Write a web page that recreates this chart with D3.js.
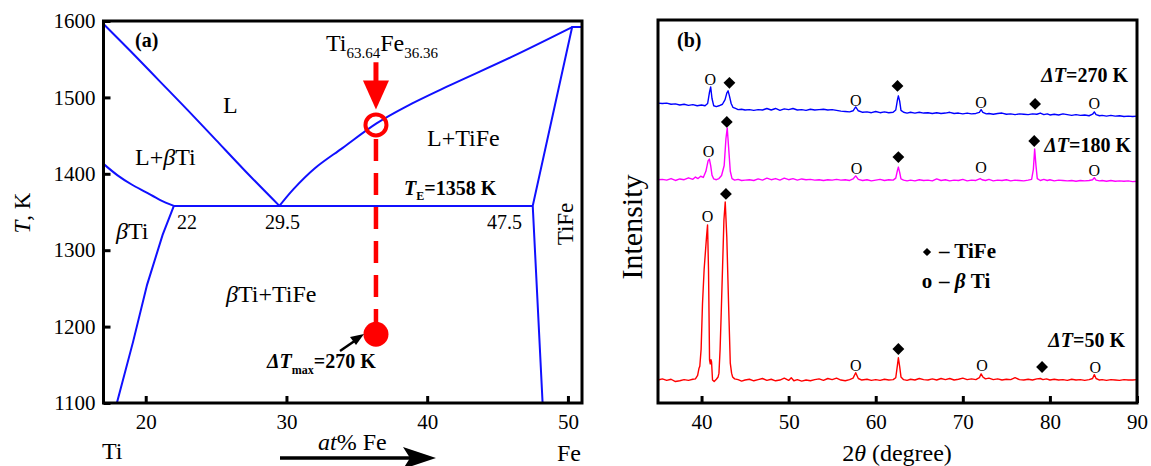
<!DOCTYPE html>
<html>
<head>
<meta charset="utf-8">
<script src="https://cdn.jsdelivr.net/npm/d3@7"></script>
<style>
body { margin: 0; background: #fff; }
svg { display: block; }
</style>
</head>
<body>
<div id="chart"></div>
<script>
const width = 1151;
const height = 466;
const serif = '"Liberation Serif", "Times New Roman", serif';

// ---- panel (a): Ti-Fe phase diagram, [at% Fe, T (K)] ----
const xTicksA = [20, 30, 40, 50];
const yTicksA = [1100, 1200, 1300, 1400, 1500, 1600];
const liquidusTi = [[17, 1596], [19, 1559], [21, 1521], [23, 1483], [25, 1444], [27, 1405], [29.5, 1358]];
const solidusTi = [[17, 1413], [18, 1398], [19, 1386], [20, 1376], [21, 1366], [22, 1358]];
const solvusTi = [[22, 1358], [21.2, 1320], [20.1, 1255], [19.1, 1180], [17.95, 1100]];
const eutectic = [[22, 1358], [47.5, 1358]];
const liquidusTiFe = [[29.5, 1358], [30.5, 1380], [32, 1407], [34, 1434],
  [36.4, 1466], [38.5, 1488], [41.4, 1514], [46, 1553], [50.3, 1592]];
const tiFeLeft = [[48.2, 1100], [47.5, 1358], [50.3, 1592], [51, 1592]];
const alloy = { fe: 36.36, tLiq: 1464, tMin: 1190 };

// ---- panel (b): XRD patterns, [2theta, intensity a.u.] ----
const xTicksB = [40, 50, 60, 70, 80, 90];
const offsets = { k50: 0, k180: 52, k270: 72 };
const xrd50 = [[35.0,6.0],[35.5,6.3],[36.0,5.9],[36.5,6.2],[37.0,5.6],[37.5,5.8],[38.0,6.1],[38.5,5.9],[39.0,6.2],
  [39.3,6.3],[39.55,7.2],[39.7,9.0],[39.8,9.6],[39.95,14],[40.11,26],[40.3,35],[40.57,43.3],[40.69,46.5],[40.8,34.7],
  [40.92,11.2],[41.0,10.2],[41.08,11.3],[41.15,10.7],[41.26,6.0],[41.45,5.6],[41.7,6.2],[41.9,6.8],[42.0,7.8],
  [42.13,14],[42.26,23.5],[42.42,36],[42.57,47.8],[42.72,52.5],[42.9,43.3],[43.1,26.1],[43.3,10.4],[43.45,7.8],
  [43.57,6.8],[43.8,6.3],[44.2,6.1],[44.6,5.7],[45.0,6.0],[45.5,6.2],[46.0,5.8],[46.5,6.1],[47.0,6.4],[47.5,5.9],
  [48.0,6.2],[48.5,5.8],[49.0,6.0],[49.5,6.5],[50.0,5.9],[50.3,6.6],[50.6,5.8],[51.0,6.1],[51.5,5.7],[52.0,6.0],
  [52.5,5.8],[53.0,6.1],[53.5,6.3],[54.0,5.9],[54.5,6.4],[55.0,6.1],[55.5,6.5],[56.0,6.0],[56.5,5.8],[57.0,6.1],
  [57.4,6.5],[57.7,7.9],[58.0,6.4],[58.4,6.0],[59.0,6.2],[59.5,5.9],[60.0,6.1],[60.5,5.9],[61.0,6.2],[61.5,6.0],
  [62.0,6.1],[62.3,6.6],[62.5,10],[62.6,11.8],[62.75,9.5],[62.9,6.8],[63.2,6.1],[63.6,5.9],[64.0,6.2],[64.5,6.0],
  [65.0,6.4],[65.5,6.1],[66.0,6.0],[66.5,6.3],[67.0,6.0],[67.5,6.4],[68.0,6.1],[68.5,6.4],[69.0,6.0],[69.5,6.2],
  [70.0,6.5],[70.5,6.1],[71.0,6.3],[71.5,6.1],[71.9,6.6],[72.1,7.6],[72.3,6.8],[72.6,6.3],[73.0,6.5],[73.5,6.1],
  [74.0,6.3],[74.5,6.0],[75.0,6.2],[75.5,6.1],[76.0,6.6],[76.5,6.1],[77.0,6.0],[77.5,6.2],[78.0,6.0],[78.5,6.3],
  [78.9,6.4],[79.2,6.1],[79.6,6.3],[80.0,6.0],[80.5,6.2],[81.0,6.0],[81.5,6.1],[82.0,5.9],[82.5,6.2],[83.0,6.0],
  [83.5,6.1],[84.0,5.9],[84.5,6.1],[84.9,6.4],[85.1,7.4],[85.3,6.4],[85.7,6.0],[86.0,6.1],[86.5,5.9],[87.0,6.1],
  [87.5,6.0],[88.0,5.9],[88.5,6.1],[89.0,6.0],[89.5,6.0],[90.0,6.1]];
const xrd180 = [[35.0,6.3],[35.5,6.4],[36.0,6.2],[36.5,6.6],[37.0,6.1],[37.5,6.5],[38.0,6.3],[38.5,6.8],[39.0,6.4],
  [39.3,7.0],[39.6,6.6],[39.9,7.2],[40.2,6.9],[40.5,8.5],[40.75,11.2],[40.9,11.7],[41.05,10],[41.2,7.5],[41.4,6.5],
  [41.7,6.3],[42.0,6.6],[42.3,7.4],[42.6,10],[42.8,17],[42.95,19.8],[43.1,15],[43.3,8.5],[43.5,6.6],[43.8,6.2],
  [44.2,6.4],[44.6,6.1],[45.0,6.2],[45.5,6.3],[46.0,6.1],[46.5,6.5],[47.0,6.2],[47.5,6.7],[48.0,6.3],[48.5,6.6],
  [49.0,6.2],[49.5,6.7],[50.0,6.3],[50.5,6.6],[51.0,6.2],[51.5,6.5],[52.0,6.3],[52.5,6.4],[53.0,6.2],[53.5,6.3],
  [54.0,6.1],[54.5,6.3],[55.0,6.2],[55.5,6.4],[56.0,6.2],[56.5,6.3],[57.0,6.1],[57.4,6.5],[57.7,7.3],[58.0,6.4],
  [58.5,6.1],[59.0,6.3],[59.5,6.0],[60.0,6.2],[60.5,6.4],[61.0,6.1],[61.5,6.3],[62.0,6.2],[62.3,6.7],[62.5,8.8],
  [62.6,9.6],[62.75,8.2],[62.9,6.5],[63.2,6.2],[63.6,6.0],[64.0,6.2],[64.5,6.0],[65.0,6.3],[65.5,6.1],[66.0,6.2],
  [66.5,6.0],[67.0,6.5],[67.5,6.1],[68.0,6.3],[68.5,6.0],[69.0,6.2],[69.5,6.1],[70.0,6.4],[70.5,6.0],[71.0,6.2],
  [71.5,6.1],[72.0,6.6],[72.2,6.3],[72.6,6.1],[73.0,6.4],[73.5,6.0],[74.0,6.2],[74.5,6.1],[75.0,6.3],[75.5,6.0],
  [76.0,6.2],[76.5,6.1],[77.0,6.0],[77.5,6.2],[77.9,6.4],[78.1,9],[78.25,14.3],[78.4,10],[78.55,6.6],[78.9,6.1],
  [79.3,6.4],[79.7,6.1],[80.0,6.3],[80.5,6.0],[81.0,6.2],[81.5,6.1],[82.0,6.0],[82.5,6.1],[83.0,5.9],[83.5,6.1],
  [84.0,6.0],[84.5,6.1],[84.9,6.3],[85.1,6.8],[85.3,6.2],[85.7,6.0],[86.0,6.1],[86.5,5.9],[87.0,6.1],[87.5,5.9],
  [88.0,6.0],[88.5,5.9],[89.0,6.0],[89.5,5.8],[90.0,5.9]];
const xrd270 = [[35.0,6.3],[35.5,6.2],[36.0,6.3],[36.5,6.0],[37.0,6.1],[37.5,5.8],[38.0,6.0],[38.5,5.7],[39.0,5.9],
  [39.5,5.6],[40.0,5.8],[40.4,5.6],[40.7,6.2],[40.9,9],[41.05,10.5],[41.2,7.5],[41.4,5.6],[41.7,5.4],[42.0,5.6],
  [42.4,6.0],[42.7,7.2],[42.9,8.9],[43.05,9.5],[43.2,8.2],[43.4,6.2],[43.6,5.2],[43.9,4.9],[44.2,4.6],[44.6,4.7],
  [45.0,4.5],[45.5,4.6],[46.0,4.4],[46.5,4.6],[47.0,4.5],[47.5,4.9],[48.0,4.5],[48.5,4.9],[49.0,4.4],[49.5,4.8],
  [50.0,4.6],[50.5,4.9],[51.0,4.5],[51.5,4.6],[52.0,4.4],[52.5,4.7],[53.0,4.5],[53.5,4.6],[54.0,4.7],[54.5,4.5],
  [55.0,4.6],[55.5,4.4],[56.0,4.2],[56.5,4.1],[57.0,4.0],[57.4,4.3],[57.7,5.3],[58.0,4.3],[58.5,3.9],[59.0,4.0],
  [59.5,3.8],[60.0,4.1],[60.5,3.8],[61.0,4.0],[61.5,3.8],[62.0,3.9],[62.3,4.5],[62.5,7.2],[62.6,8.2],[62.75,6.8],
  [62.9,4.4],[63.2,3.9],[63.6,3.7],[64.0,3.9],[64.5,3.7],[65.0,3.9],[65.5,3.7],[66.0,3.8],[66.5,3.6],[67.0,3.8],
  [67.5,3.6],[68.0,3.7],[68.5,3.9],[69.0,3.6],[69.5,3.7],[70.0,3.5],[70.5,3.7],[71.0,3.5],[71.5,3.6],[71.9,3.9],
  [72.1,4.6],[72.3,3.9],[72.7,3.5],[73.0,3.6],[73.5,3.4],[74.0,3.6],[74.5,3.7],[75.0,3.4],[75.5,3.5],[76.0,3.3],
  [76.5,3.5],[77.0,3.4],[77.5,3.3],[78.0,3.5],[78.5,3.4],[78.9,3.7],[79.3,3.3],[79.7,3.5],[80.0,3.2],[80.5,3.4],
  [81.0,3.2],[81.5,3.5],[82.0,3.3],[82.5,3.1],[83.0,3.3],[83.5,3.1],[84.0,3.2],[84.5,3.0],[84.9,3.4],[85.1,4.0],
  [85.3,3.3],[85.7,3.0],[86.0,3.1],[86.5,2.9],[87.0,3.1],[87.5,2.9],[88.0,3.0],[88.5,2.8],[89.0,2.9],[89.5,2.8],
  [90.0,2.9]];

// peak labels: [2theta, height above own baseline, phase] ('o' = beta-Ti, 'd' = TiFe)
const marks50 = [[40.7,48.8,'o'],[42.8,54.6,'d'],[57.7,9.9,'o'],[62.6,14.1,'d'],[72.2,9.9,'o'],[79.1,9.4,'d'],[85.2,9.4,'o']];
const marks180 = [[40.8,13.8,'o'],[42.9,21.4,'d'],[57.8,9.4,'o'],[62.6,12.2,'d'],[72.1,9.6,'o'],[78.2,16.4,'d'],[85.1,8.8,'o']];
const marks270 = [[41.0,12.6,'o'],[43.2,11.6,'d'],[57.7,7.1,'o'],[62.5,10.8,'d'],[72.1,6.5,'o'],[78.3,6.1,'d'],[85.1,6.3,'o']];

const svg = d3.select('#chart')
  .append('svg')
  .attr('width', width)
  .attr('height', height)
  .attr('font-family', serif);

const xA = d3.scaleLinear().domain([17, 51]).range([103.5, 582]);
const yA = d3.scaleLinear().domain([1100, 1600]).range([403, 21]);
const xB = d3.scaleLinear().domain([35, 90]).range([658, 1137]);
const yB = d3.scaleLinear().domain([0, 100]).range([403, 20]);

function styleAxis(g) {
  g.attr('font-family', serif).attr('font-size', 21);
  g.select('.domain').remove();
  g.selectAll('.tick line').attr('stroke', '#000').attr('stroke-width', 3);
  g.selectAll('.tick text').attr('fill', '#000');
}

// ---------- panel (a) ----------
const lineA = d3.line().x(d => xA(d[0])).y(d => yA(d[1]));
const curveA = d3.line().x(d => xA(d[0])).y(d => yA(d[1])).curve(d3.curveCatmullRom.alpha(0.5));
[[liquidusTi, curveA], [solidusTi, curveA], [solvusTi, lineA], [eutectic, lineA], [liquidusTiFe, curveA], [tiFeLeft, lineA]]
  .forEach(([seg, gen]) => {
    svg.append('path')
      .datum(seg)
      .attr('d', gen)
      .attr('fill', 'none')
      .attr('stroke', '#1010ff')
      .attr('stroke-width', 2);
  });

svg.append('g')
  .attr('transform', `translate(0,${yA.range()[0]})`)
  .call(d3.axisBottom(xA).tickValues(xTicksA).tickFormat(d3.format('d'))
    .tickSizeInner(-7).tickSizeOuter(0).tickPadding(11))
  .call(styleAxis);
svg.append('g')
  .attr('transform', `translate(${xA.range()[0]},0)`)
  .call(d3.axisLeft(yA).tickValues(yTicksA).tickFormat(d3.format('d'))
    .tickSizeInner(-7).tickSizeOuter(0).tickPadding(8))
  .call(styleAxis);

svg.append('rect')
  .attr('x', xA.range()[0]).attr('y', yA.range()[1])
  .attr('width', xA.range()[1] - xA.range()[0])
  .attr('height', yA.range()[0] - yA.range()[1])
  .attr('fill', 'none').attr('stroke', '#000').attr('stroke-width', 3);

// alloy composition: arrow, liquidus point, undercooling path
const red = '#ff0000';
svg.append('line')
  .attr('x1', xA(alloy.fe)).attr('x2', xA(alloy.fe))
  .attr('y1', yA(1546)).attr('y2', yA(1500))
  .attr('stroke', red).attr('stroke-width', 5);
svg.append('path')
  .attr('d', `M${xA(alloy.fe) - 13},${yA(1522)} L${xA(alloy.fe) + 13},${yA(1522)} L${xA(alloy.fe)},${yA(1484)} Z`)
  .attr('fill', red);
svg.append('circle')
  .attr('cx', xA(alloy.fe)).attr('cy', yA(alloy.tLiq)).attr('r', 10.5)
  .attr('fill', 'none').attr('stroke', red).attr('stroke-width', 4);
svg.append('line')
  .attr('x1', xA(alloy.fe)).attr('x2', xA(alloy.fe))
  .attr('y1', yA(alloy.tLiq) + 14).attr('y2', yA(alloy.tMin) - 12)
  .attr('stroke', red).attr('stroke-width', 4.5)
  .attr('stroke-dasharray', '22,12');
svg.append('circle')
  .attr('cx', xA(alloy.fe)).attr('cy', yA(alloy.tMin)).attr('r', 12.5)
  .attr('fill', red);

// small black arrow pointing to the undercooled point
svg.append('line')
  .attr('x1', 340).attr('y1', 351).attr('x2', 356).attr('y2', 340)
  .attr('stroke', '#000').attr('stroke-width', 2.5);
svg.append('path')
  .attr('d', 'M364,334 L350,337 L356,345 Z')
  .attr('fill', '#000');

const textA = (x, y, size, weight) => svg.append('text')
  .attr('x', x).attr('y', y)
  .attr('font-size', size)
  .attr('font-weight', weight || 'normal');

textA(135, 47, 20, 'bold').text('(a)');
textA(223, 113, 24).text('L');
const lb = textA(135, 165, 24);
lb.append('tspan').text('L+');
lb.append('tspan').attr('font-style', 'italic').text('β');
lb.append('tspan').text('Ti');
const bt = textA(116, 239, 24);
bt.append('tspan').attr('font-style', 'italic').text('β');
bt.append('tspan').text('Ti');
textA(177, 229, 20).text('22');
textA(265, 229, 20).text('29.5');
textA(487, 229, 20).text('47.5');
textA(427, 146, 24).text('L+TiFe');
const bf = textA(226, 302, 24);
bf.append('tspan').attr('font-style', 'italic').text('β');
bf.append('tspan').text('Ti+TiFe');
svg.append('text')
  .attr('transform', 'translate(573,224) rotate(-90)')
  .attr('text-anchor', 'middle')
  .attr('font-size', 23)
  .text('TiFe');

const te = textA(404, 195, 20, 'bold');
te.append('tspan').attr('font-style', 'italic').text('T');
te.append('tspan').attr('font-size', 12).attr('dy', 5).text('E');
te.append('tspan').attr('dy', -5).text('=1358 K');

const comp = textA(326, 51, 24);
comp.append('tspan').text('Ti');
comp.append('tspan').attr('font-size', 15).attr('dy', 7).text('63.64');
comp.append('tspan').attr('dy', -7).text('Fe');
comp.append('tspan').attr('font-size', 15).attr('dy', 7).text('36.36');

const dt = textA(267, 368, 20, 'bold');
dt.append('tspan').attr('font-style', 'italic').text('ΔT');
dt.append('tspan').attr('font-size', 12).attr('dy', 6).text('max');
dt.append('tspan').attr('dy', -6).text('=270 K');

svg.append('text')
  .attr('transform', 'translate(30,213) rotate(-90)')
  .attr('text-anchor', 'middle')
  .attr('font-size', 23)
  .call(t => {
    t.append('tspan').attr('font-style', 'italic').text('T');
    t.append('tspan').text(', K');
  });

textA(102, 459, 24).text('Ti');
textA(557, 461, 24).text('Fe');
const at = textA(318, 450, 24);
at.append('tspan').attr('font-style', 'italic').text('at');
at.append('tspan').text('% Fe');
svg.append('line')
  .attr('x1', 280).attr('y1', 458).attr('x2', 418).attr('y2', 458)
  .attr('stroke', '#000').attr('stroke-width', 3.5);
svg.append('path')
  .attr('d', 'M436,458 L403,447 L410,458 L403,469 Z')
  .attr('fill', '#000');

// ---------- panel (b) ----------
const patterns = [
  { data: xrd50, marks: marks50, off: offsets.k50, color: '#ff0000', label: '=50 K', lx: 1125, ly: 347 },
  { data: xrd180, marks: marks180, off: offsets.k180, color: '#ff00ff', label: '=180 K', lx: 1131, ly: 152 },
  { data: xrd270, marks: marks270, off: offsets.k270, color: '#0000ff', label: '=270 K', lx: 1128, ly: 82 }
];

const diamond = d3.symbol().type(d3.symbolSquare).size(70);

patterns.forEach(p => {
  const line = d3.line().x(d => xB(d[0])).y(d => yB(d[1] + p.off));
  svg.append('path')
    .datum(p.data)
    .attr('d', line)
    .attr('fill', 'none')
    .attr('stroke', p.color)
    .attr('stroke-width', 1.4)
    .attr('stroke-linejoin', 'round');

  p.marks.forEach(m => {
    const x = xB(m[0]);
    const y = yB(m[1] + p.off);
    if (m[2] === 'd') {
      svg.append('path')
        .attr('d', diamond)
        .attr('transform', `translate(${x},${y}) rotate(45)`)
        .attr('fill', '#000');
    } else {
      svg.append('text')
        .attr('x', x).attr('y', y)
        .attr('dy', '0.36em')
        .attr('text-anchor', 'middle')
        .attr('font-size', 16)
        .text('O');
    }
  });

  const lab = svg.append('text')
    .attr('x', p.lx).attr('y', p.ly)
    .attr('text-anchor', 'end')
    .attr('font-size', 20)
    .attr('font-weight', 'bold');
  lab.append('tspan').attr('font-style', 'italic').text('ΔT');
  lab.append('tspan').text(p.label);
});

svg.append('g')
  .attr('transform', `translate(0,${yB.range()[0]})`)
  .call(d3.axisBottom(xB).tickValues(xTicksB).tickFormat(d3.format('d'))
    .tickSizeInner(-7).tickSizeOuter(0).tickPadding(11))
  .call(styleAxis);

svg.append('rect')
  .attr('x', xB.range()[0]).attr('y', yB.range()[1])
  .attr('width', xB.range()[1] - xB.range()[0])
  .attr('height', yB.range()[0] - yB.range()[1])
  .attr('fill', 'none').attr('stroke', '#000').attr('stroke-width', 3);

svg.append('text').attr('x', 677).attr('y', 47)
  .attr('font-size', 20).attr('font-weight', 'bold').text('(b)');

// legend
svg.append('path')
  .attr('d', d3.symbol().type(d3.symbolSquare).size(34))
  .attr('transform', 'translate(927,252) rotate(45)')
  .attr('fill', '#000');
svg.append('text').attr('x', 939).attr('y', 258)
  .attr('font-size', 21).attr('font-weight', 'bold').text('– TiFe');
svg.append('text').attr('x', 927).attr('y', 288).attr('text-anchor', 'middle')
  .attr('font-size', 21).attr('font-weight', 'bold').text('o');
const lg = svg.append('text').attr('x', 939).attr('y', 288)
  .attr('font-size', 21).attr('font-weight', 'bold');
lg.append('tspan').text('– ');
lg.append('tspan').attr('font-style', 'italic').text('β');
lg.append('tspan').text(' Ti');

svg.append('text')
  .attr('transform', 'translate(642,227) rotate(-90)')
  .attr('text-anchor', 'middle')
  .attr('font-size', 30)
  .text('Intensity');

const tt = svg.append('text').attr('x', 897).attr('y', 461)
  .attr('text-anchor', 'middle').attr('font-size', 24);
tt.append('tspan').text('2');
tt.append('tspan').attr('font-style', 'italic').text('θ');
tt.append('tspan').text(' (degree)');
</script>
</body>
</html>
